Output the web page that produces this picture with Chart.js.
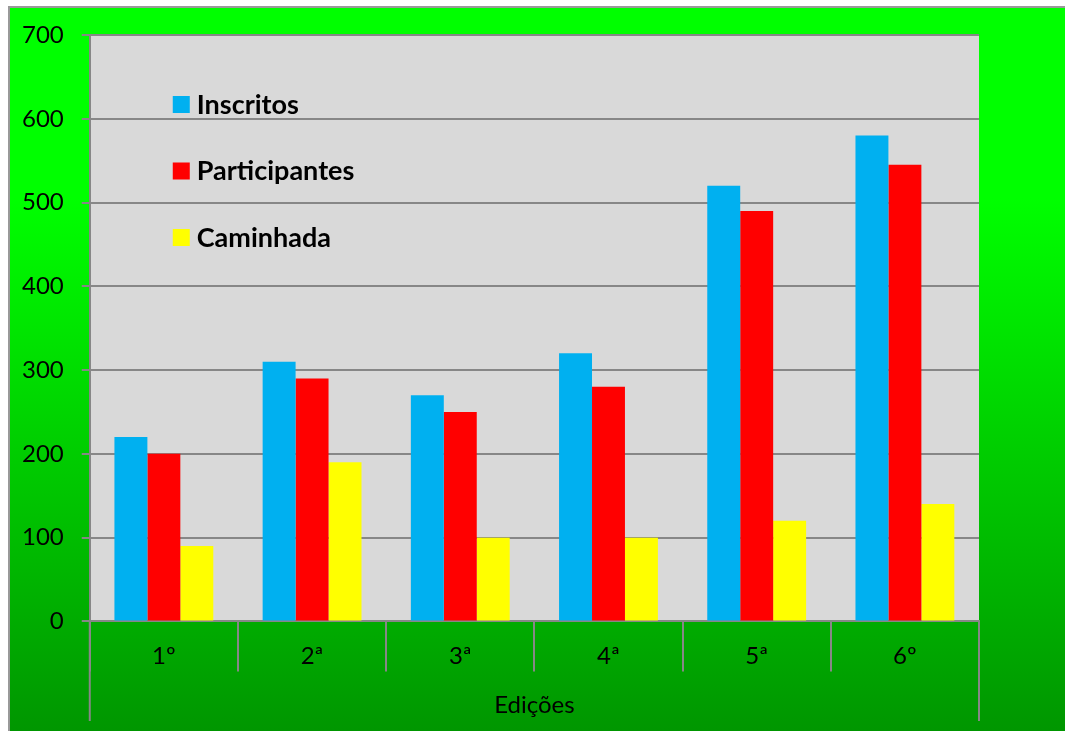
<!DOCTYPE html>
<html>
<head>
<meta charset="utf-8">
<script src="https://cdn.jsdelivr.net/npm/chart.js@4.4.0/dist/chart.umd.min.js"></script>
<style>
  body { margin: 0; background: #fff; }
  #frame {
    position: absolute; left: 8px; top: 6px; width: 1060px; height: 730px;
    border-left: 2px solid #999; border-top: 2px solid #999;
    background: linear-gradient(to bottom, #00ff00 0px, #00ff00 190px, #009600 725px);
  }
  #chart { position: absolute; left: 0; top: 0; }
</style>
</head>
<body>
<div id="frame"></div>
<canvas id="chart" width="1065" height="731"></canvas>
<script>
const editions = ['1º', '2ª', '3ª', '4ª', '5ª', '6º'];
const inscritos = [220, 310, 270, 320, 520, 580];
const participantes = [200, 290, 250, 280, 490, 545];
const caminhada = [90, 190, 100, 100, 120, 140];
const yTicks = [0, 100, 200, 300, 400, 500, 600, 700];

const FONT = 'Lato, "Liberation Sans", sans-serif';
const GRID = '#878787';

// grey plot area behind the bars
const plotBackground = {
  id: 'plotBackground',
  beforeDraw(chart) {
    const {ctx, chartArea} = chart;
    ctx.save();
    ctx.fillStyle = '#d9d9d9';
    ctx.fillRect(chartArea.left, chartArea.top, chartArea.right - chartArea.left, chartArea.bottom - chartArea.top);
    ctx.restore();
  }
};

// outer lines of the category axis run down past the labels to the title row
const outerLines = {
  id: 'outerLines',
  afterDraw(chart) {
    const {ctx} = chart;
    const x = chart.scales.x;
    ctx.save();
    ctx.strokeStyle = GRID;
    ctx.lineWidth = 2;
    [x.left, x.right].forEach(px => {
      ctx.beginPath();
      ctx.moveTo(px, x.top);
      ctx.lineTo(px, 721);
      ctx.stroke();
    });
    ctx.restore();
  }
};

// legend drawn inside the plot area, one item per row
const insideLegend = {
  id: 'insideLegend',
  afterDraw(chart) {
    const {ctx, chartArea} = chart;
    ctx.save();
    ctx.font = 'bold 27px ' + FONT;
    ctx.textBaseline = 'middle';
    chart.data.datasets.forEach((ds, i) => {
      const y = chartArea.top + 69 + i * 66.5;
      const x = chartArea.left + 83;
      ctx.fillStyle = ds.backgroundColor;
      ctx.fillRect(x, y - 8, 17, 17);
      ctx.fillStyle = '#000';
      ctx.fillText(ds.label, x + 24, y + 1);
    });
    ctx.restore();
  }
};

new Chart(document.getElementById('chart'), {
  type: 'bar',
  data: {
    labels: editions,
    datasets: [
      { label: 'Inscritos', data: inscritos, backgroundColor: '#00b0f0' },
      { label: 'Participantes', data: participantes, backgroundColor: '#ff0000' },
      { label: 'Caminhada', data: caminhada, backgroundColor: '#ffff00' }
    ]
  },
  options: {
    responsive: false,
    devicePixelRatio: 1,
    animation: false,
    categoryPercentage: 0.667,
    barPercentage: 1.0,
    layout: { padding: { left: 4, right: 86, top: 35, bottom: 11 } },
    plugins: { legend: { display: false }, tooltip: { enabled: false } },
    scales: {
      y: {
        min: 0,
        max: 700,
        afterBuildTicks(axis) { axis.ticks = yTicks.map(v => ({value: v})); },
        grid: { color: GRID, lineWidth: 2, tickLength: 8 },
        border: { color: GRID, width: 2 },
        ticks: { color: '#000', padding: 18, font: { family: FONT, size: 24 } }
      },
      x: {
        grid: { offset: true, drawOnChartArea: false, color: GRID, lineWidth: 2, tickLength: 50 },
        border: { color: GRID, width: 2 },
        ticks: { color: '#000', padding: -30, font: { family: FONT, size: 24 } },
        title: {
          display: true, text: 'Edições', color: '#000',
          font: { family: FONT, size: 24 }, padding: { top: 51, bottom: 0 }
        }
      }
    }
  },
  plugins: [plotBackground, outerLines, insideLegend]
});
</script>
</body>
</html>
